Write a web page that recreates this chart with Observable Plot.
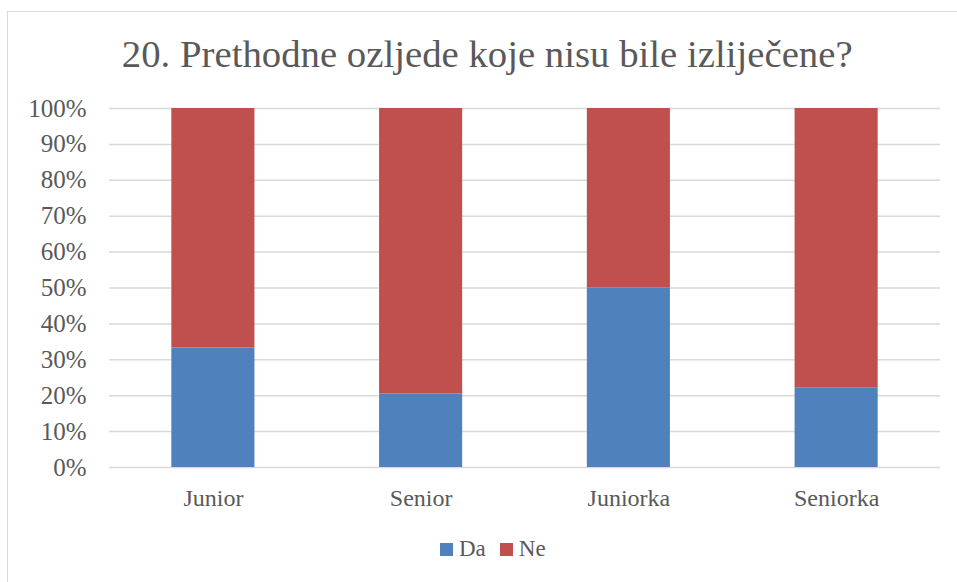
<!DOCTYPE html>
<html>
<head>
<meta charset="utf-8">
<script src="https://cdn.jsdelivr.net/npm/d3@7"></script>
<script src="https://cdn.jsdelivr.net/npm/@observablehq/plot@0.6"></script>
<style>
  html, body { margin: 0; padding: 0; background: #fff; }
  body { width: 957px; height: 582px; position: relative; overflow: hidden; font-family: "Liberation Serif", "DejaVu Serif", serif; color: #595959; }
  #frame { position: absolute; left: 7px; top: 11px; width: 980px; height: 600px; border: 1px solid #d9d9d9; box-sizing: border-box; }
  #title { position: absolute; left: 0; top: 32px; width: 975px; text-align: center; font-size: 38px; line-height: 44px; white-space: nowrap; }
  #title span { display: inline-block; transform: scaleX(1.02); transform-origin: center; }
  #chart { position: absolute; left: 0; top: 90px; }
  #legend { position: absolute; top: 536px; left: 440px; font-size: 23px; line-height: 26px; display: flex; align-items: center; }
  #legend .sw { width: 13px; height: 13px; display: inline-block; margin-right: 6px; }
  #legend .item { display: flex; align-items: center; margin-right: 14px; }
</style>
</head>
<body>
<div id="frame"></div>
<div id="title"><span>20. Prethodne ozljede koje nisu bile izliječene?</span></div>
<div id="chart"></div>
<div id="legend"></div>
<script>
const categories = ["Junior", "Senior", "Juniorka", "Seniorka"];
const seriesNames = ["Da", "Ne"];
const daValues = [33.3, 20.5, 50.0, 22.2];
const neValues = [66.7, 79.5, 50.0, 77.8];
const yTicks = [0, 10, 20, 30, 40, 50, 60, 70, 80, 90, 100];
const colors = ["#4F81BD", "#C0504D"];

const rows = [];
categories.forEach((c, i) => {
  rows.push({category: c, series: "Da", value: daValues[i]});
  rows.push({category: c, series: "Ne", value: neValues[i]});
});

const chart = Plot.plot({
  width: 957,
  height: 440,
  marginLeft: 109,
  marginRight: 17,
  marginTop: 18,
  marginBottom: 63,
  style: { fontFamily: '"Liberation Serif", "DejaVu Serif", serif', fontSize: "24px", color: "#595959", background: "transparent" },
  x: { domain: categories, paddingInner: 0.6, paddingOuter: 0.3, round: false, label: null },
  y: { domain: [0, 100], label: null },
  color: { domain: seriesNames, range: colors },
  marks: [
    Plot.ruleY(yTicks, { stroke: "#d9d9d9", strokeWidth: 1.5 }),
    Plot.barY(rows, { x: "category", y: "value", fill: "series" }),
    Plot.axisY({ ticks: yTicks, tickFormat: d => d + "%", tickSize: 0, tickPadding: 23, fontSize: 25, fill: "#595959" }),
    Plot.axisX({ tickSize: 0, tickPadding: 21, fontSize: 24, fill: "#595959" })
  ]
});
document.getElementById("chart").appendChild(chart);

const legend = document.getElementById("legend");
seriesNames.forEach((s, i) => {
  const item = document.createElement("div");
  item.className = "item";
  const sw = document.createElement("span");
  sw.className = "sw";
  sw.style.background = colors[i];
  const t = document.createElement("span");
  t.textContent = s;
  item.appendChild(sw);
  item.appendChild(t);
  legend.appendChild(item);
});
</script>
</body>
</html>
